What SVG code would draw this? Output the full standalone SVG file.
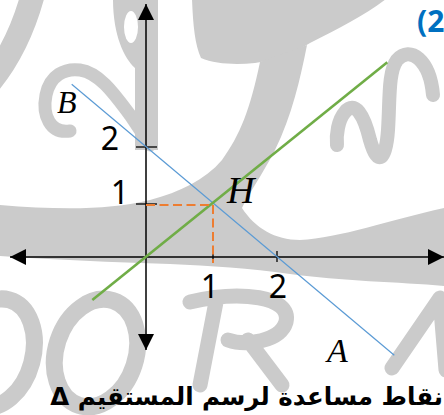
<svg xmlns="http://www.w3.org/2000/svg" width="444" height="415" viewBox="0 0 444 415">
<style>
.wm{fill:#CBCBCB;stroke:none}
.wms{fill:none;stroke:#CBCBCB;stroke-linecap:round;stroke-linejoin:round}
.axis{stroke:#000;stroke-width:1.5;fill:none}
.tick{stroke:#000;stroke-width:1.3}
.dash{stroke:#ED7D31;stroke-width:2;stroke-dasharray:9 4.5;fill:none}
.num{font-family:"Noto Sans","Open Sans",sans-serif;font-size:32px;fill:#000}
.pt{font-family:"Liberation Serif",serif;font-style:italic;fill:#000}
</style>
<defs>
<marker id="arr" markerUnits="userSpaceOnUse" markerWidth="16" markerHeight="16" refX="16" refY="8" orient="auto-start-reverse" viewBox="0 0 16 16">
<path d="M0,0 L16,8 L0,16 Z" fill="#000"/>
</marker>
</defs>
<rect width="444" height="415" fill="#fff"/>
<g id="watermark">
<path class="wms" stroke-width="24" d="M34,-10 Q20,45 -10,82"/>
<path class="wm" d="M113,-1 L158,-1 L158,150 L135,150 L135,68 C124,58 113,35 113,-1 Z"/>
<ellipse cx="131" cy="27" rx="7" ry="16" fill="#fff"/>
<path class="wms" stroke-width="13" d="M70,131 C50,134 42,115 46,95 C50,75 65,68 80,70 C100,73 115,95 130,115 L150,145"/>
<path class="wm" d="M192,-1 L386,-1 C365,15 340,28 310,43 C290,55 275,60 255,63 C235,65 215,64 201,58 C195,45 193,25 192,-1 Z"/>
<path class="wm" d="M0,205 C60,210 110,210 150,200 C180,192 205,180 222,160 C240,135 250,110 260,62 L307,45 C300,80 292,115 275,150 C262,175 248,195 242,208 C255,228 275,240 300,240 C340,238 390,220 444,208 L444,286 C400,282 340,281 290,274 C250,268 210,266 170,264 C110,262 60,260 0,256 Z"/>
<path class="wms" stroke-width="14" d="M433,95 C430,60 410,45 397,60 C388,72 390,100 388,130 C386,160 378,168 370,140 C364,115 355,100 345,112 C338,120 336,135 337,145"/>
<ellipse class="wms" stroke-width="17" cx="-5" cy="353" rx="38" ry="55" transform="rotate(15 -5 353)"/>
<ellipse class="wms" stroke-width="17" cx="96" cy="353" rx="40" ry="55" transform="rotate(18 96 353)"/>
<path class="wms" stroke-width="15" d="M190,302 C240,290 292,296 286,322 C280,342 245,346 228,340 M216,302 L200,385 M248,340 L282,385"/>
<path class="wms" stroke-width="15" d="M392,368 L440,298 L446,370"/>
</g>
<g id="connectors">
<line id="x-axis" class="axis" x1="10" y1="257" x2="444" y2="257" marker-start="url(#arr)" marker-end="url(#arr)"/>
<line id="y-axis" class="axis" x1="146" y1="4" x2="146" y2="350" marker-start="url(#arr)" marker-end="url(#arr)"/>
<line class="tick" x1="136" y1="147" x2="157" y2="147"/>
<line class="tick" x1="136" y1="204" x2="157" y2="204"/>
<line class="tick" x1="213" y1="251" x2="213" y2="262"/>
<line class="tick" x1="277" y1="251" x2="277" y2="262"/>
<line id="line-AB" x1="71.7" y1="84.3" x2="394.3" y2="355.3" stroke="#5B9BD5" stroke-width="1.2"/>
<line id="delta" x1="92.3" y1="300" x2="387.3" y2="62.3" stroke="#70AD47" stroke-width="2.6"/>
<path class="dash" d="M146,205 H213"/>
<path class="dash" d="M213,205 V263"/>
</g>
<g id="labels">
<text class="num" x="110" y="150" text-anchor="middle">2</text>
<text class="num" x="120" y="204" text-anchor="middle">1</text>
<text class="num" x="210" y="298" text-anchor="middle">1</text>
<text class="num" x="278" y="298" text-anchor="middle">2</text>
<text class="pt" x="57" y="113" font-size="32">B</text>
<text class="pt" x="227" y="203" font-size="38">H</text>
<text class="pt" x="327" y="362" font-size="34">A</text>
<text x="417" y="32" font-family="'Open Sans','Noto Sans',sans-serif" font-weight="bold" font-size="30" fill="#0070C0">(2</text>
<text x="443" y="405" direction="rtl" text-anchor="start" font-family="'DejaVu Sans',sans-serif" font-weight="bold" font-size="24.5" fill="#000">نقاط مساعدة لرسم المستقيم Δ</text>
</g>
</svg>
